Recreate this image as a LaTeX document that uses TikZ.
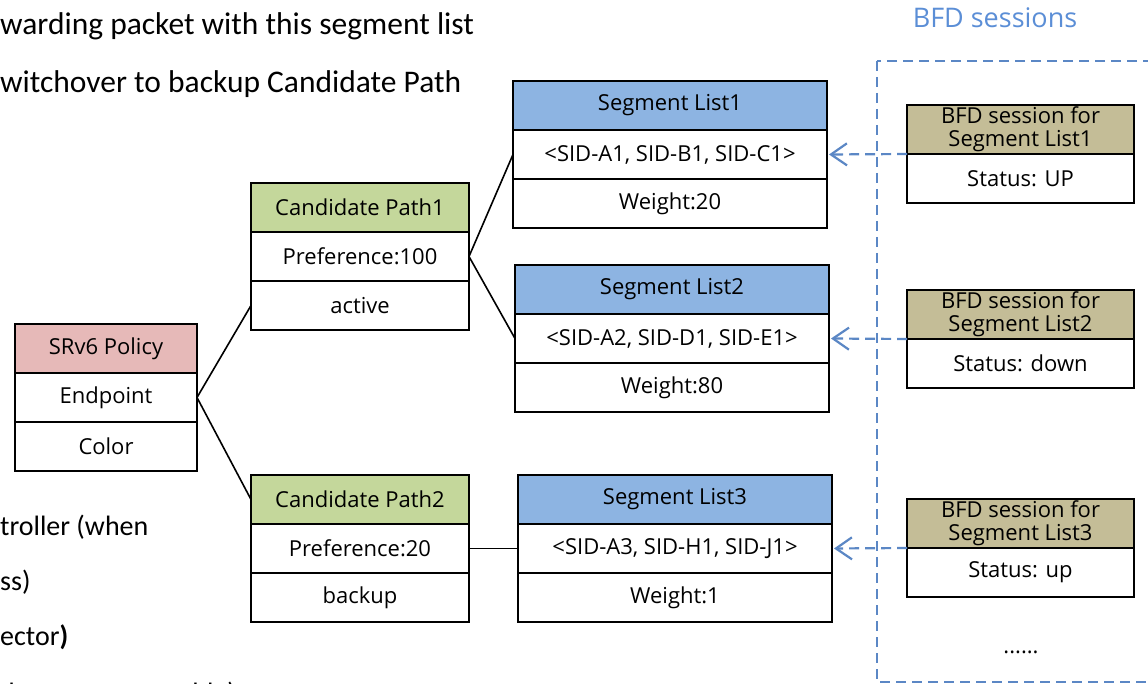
\documentclass[tikz,border=0pt]{standalone}
\usepackage{fontspec}
\setmainfont{Open Sans}
\newfontfamily\calib{Carlito}
\usetikzlibrary{arrows.meta}
\definecolor{polred}{HTML}{E6B9B8}
\definecolor{cpgreen}{HTML}{C4D79B}
\definecolor{slblue}{HTML}{8DB4E2}
\definecolor{bfdtan}{HTML}{C4BD97}
\definecolor{dashblue}{HTML}{5B87C5}
\definecolor{titleblue}{HTML}{5B8ED6}
\begin{document}
\begin{tikzpicture}[x=1pt,y=-1pt,
  cell/.style={draw=black,line width=2.6pt,inner sep=0pt,outer sep=0pt,
    font=\fontsize{22}{23}\selectfont,align=center,minimum height=49pt},
  pbox/.style={cell,minimum width=182pt},
  cbox/.style={cell,minimum width=218pt},
  sbox/.style={cell,minimum width=314pt},
  bbox/.style={cell,minimum width=227pt},
  link/.style={draw=black,line width=1.6pt},
  bfdlink/.style={draw=dashblue,line width=2.2pt,dash pattern=on 10pt off 6pt,
    -{Straight Barb[length=16pt,width=22pt,line width=2.2pt]},shorten >=2pt},
  frame/.style={draw=dashblue,line width=2.4pt,dash pattern=on 10pt off 6pt},
  sidetext/.style={font=\calib\fontsize{31.5}{36}\selectfont,anchor=base west,inner sep=0pt},
  sidetextb/.style={font=\calib\fontsize{28}{32}\selectfont,anchor=base west,inner sep=0pt}
]
\useasboundingbox (0,0) rectangle (1148,684);
\clip (0,0) rectangle (1148,684);

% side texts (cut off by the picture edge)
\node[sidetext] (t1) at (0,35) {warding packet with this segment list};
\node[sidetext] (t2) at (0,93) {witchover to backup Candidate Path};
\node[sidetextb] (t3) at (0,535) {troller (when};
\node[sidetextb] (t4) at (0,590) {ss)};
\node[sidetextb] (t5) at (0,645) {ector\textbf{)}};
\node[sidetextb] (t6) at (0,702) {d\hspace{155pt}table)};

% SRv6 Policy
\node[pbox,fill=polred] (pol1) at (106,348.5) {SRv6 Policy};
\node[pbox,fill=white] (pol2) at (106,397.5) {Endpoint};
\node[pbox,fill=white] (pol3) at (106,446.5) {Color};

% Candidate paths
\node[cbox,fill=cpgreen] (cp1a) at (360,207.5) {Candidate Path1};
\node[cbox,fill=white] (cp1b) at (360,256.5) {Preference:100};
\node[cbox,fill=white] (cp1c) at (360,305.5) {active};

\node[cbox,fill=cpgreen] (cp2a) at (360,499.5) {Candidate Path2};
\node[cbox,fill=white] (cp2b) at (360,548.5) {Preference:20};
\node[cbox,fill=white] (cp2c) at (360,597.5) {backup};

% Segment lists
\node[sbox,fill=slblue] (sl1a) at (670,105.5) {Segment List1};
\node[sbox,fill=white] (sl1b) at (670,154.5) {<SID-A1, SID-B1, SID-C1>};
\node[sbox,fill=white] (sl1c) at (670,203.5) {Weight:20};

\node[sbox,fill=slblue] (sl2a) at (672,289.5) {Segment List2};
\node[sbox,fill=white] (sl2b) at (672,338.5) {<SID-A2, SID-D1, SID-E1>};
\node[sbox,fill=white] (sl2c) at (672,387.5) {Weight:80};

\node[sbox,fill=slblue] (sl3a) at (675,499.5) {Segment List3};
\node[sbox,fill=white] (sl3b) at (675,548.5) {<SID-A3, SID-H1, SID-J1>};
\node[sbox,fill=white] (sl3c) at (675,597.5) {Weight:1};

% BFD frame and title
\draw[frame] (877,61) rectangle (1170,682);
\node[font=\fontsize{27}{30}\selectfont,text=titleblue,inner sep=0pt] (title) at (995,18) {BFD sessions};

% BFD sessions
\node[bbox,fill=bfdtan] (bfd1a) at (1020.5,129.5) {BFD session for\\Segment List1};
\node[bbox,fill=white] (bfd1b) at (1020.5,178.5) {Status: UP};

\node[bbox,fill=bfdtan] (bfd2a) at (1020.5,314.5) {BFD session for\\Segment List2};
\node[bbox,fill=white] (bfd2b) at (1020.5,363.5) {Status: down};

\node[bbox,fill=bfdtan] (bfd3a) at (1020.5,523.5) {BFD session for\\Segment List3};
\node[bbox,fill=white] (bfd3b) at (1020.5,572.5) {Status: up};

\node[font=\fontsize{22}{23}\selectfont,anchor=base,inner sep=0pt] (dots) at (1021,653) {......};

% connectors
\draw[link] (pol2.east) -- (cp1c.west);
\draw[link] (pol2.east) -- (cp2a.west);
\draw[link] (cp1b.east) -- (sl1b.west);
\draw[link] (cp1b.east) -- (sl2b.west);
\draw[link] (cp2b.east) -- (sl3b.west);

% BFD arrows
\draw[bfdlink] (bfd1a.south west) -- (sl1b.east);
\draw[bfdlink] (bfd2a.south west) -- (sl2b.east);
\draw[bfdlink] (bfd3a.south west) -- (sl3b.east);
\end{tikzpicture}
\end{document}
